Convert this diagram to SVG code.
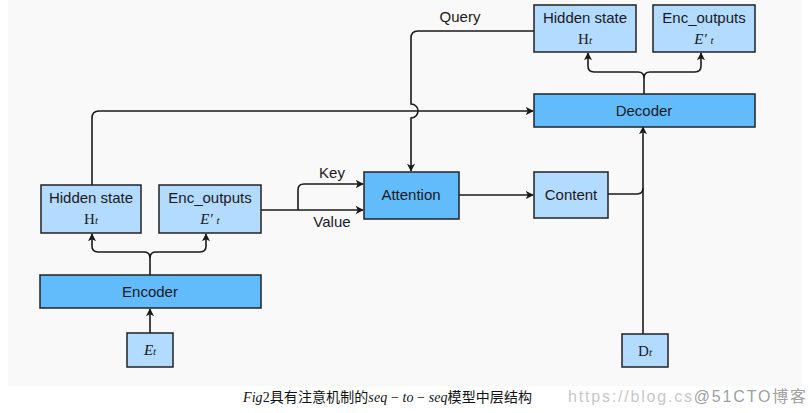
<svg xmlns="http://www.w3.org/2000/svg" width="810" height="413" viewBox="0 0 810 413">
<style>
.lt{fill:#b3dbff;stroke:#222;stroke-width:1.5}
.dk{fill:#62bcfc;stroke:#222;stroke-width:1.5}
.lb{font-family:"Liberation Sans",Arial,sans-serif;font-size:15px;fill:#1a1a1a;text-anchor:middle}
.mt{font-family:"Liberation Serif","Times New Roman",serif;font-size:15px;fill:#1a1a1a;text-anchor:middle}
.cn{fill:none;stroke:#1a1a1a;stroke-width:1.6}
</style>
<defs>
<marker id="ah" viewBox="0 0 10 10" refX="9" refY="5" markerWidth="8" markerHeight="8" orient="auto" markerUnits="userSpaceOnUse">
<path d="M0,0 L10,5 L0,10 L2.5,5 Z" fill="#1a1a1a"/>
</marker>
</defs>
<rect x="8" y="0" width="794" height="386" fill="#f9f9f9"/>
<rect x="0" y="386" width="810" height="27" fill="#ffffff"/>

<g id="connectors">
<path class="cn" d="M150,275 V258 Q150,252 144,252 H98 Q92,252 92,246 V234" marker-end="url(#ah)"/>
<path class="cn" d="M150,258 Q150,252 156,252 H200 Q206,252 206,246 V234" marker-end="url(#ah)"/>
<path class="cn" d="M644,94 V78 Q644,72 638,72 H594 Q588,72 588,66 V53" marker-end="url(#ah)"/>
<path class="cn" d="M644,78 Q644,72 650,72 H695 Q701,72 701,66 V53" marker-end="url(#ah)"/>
<path class="cn" d="M92,185 V118 Q92,111 99,111 H533" marker-end="url(#ah)"/>
<path class="cn" d="M534,31 H418 Q411,31 411,38 V104 A7,7 0 0 1 411,118 V171" marker-end="url(#ah)"/>
<path class="cn" d="M261,210 H363" marker-end="url(#ah)"/>
<path class="cn" d="M298,210 V190 Q298,184 304,184 H363" marker-end="url(#ah)"/>
<path class="cn" d="M459,195 H533" marker-end="url(#ah)"/>
<path class="cn" d="M608,194 H637 Q643,194 643,188"/>
<path class="cn" d="M643,334 V127" marker-end="url(#ah)"/>
<path class="cn" d="M150,333 V309" marker-end="url(#ah)"/>
<text class="lb" x="332" y="178">Key</text>
<text class="lb" x="332" y="227">Value</text>
<text class="lb" x="460" y="22">Query</text>
</g>

<g id="enc-hidden">
<rect class="lt" x="41" y="185" width="100" height="48"/>
<text class="lb" x="91" y="203">Hidden state</text>
<text class="mt" x="91" y="224">H<tspan font-style="italic" font-size="11">t</tspan></text>
</g>
<g id="enc-outputs">
<rect class="lt" x="159" y="185" width="102" height="48"/>
<text class="lb" x="210" y="203">Enc_outputs</text>
<text class="mt" x="210" y="224" font-style="italic">E′ <tspan font-size="11">t</tspan></text>
</g>
<g id="encoder">
<rect class="dk" x="40" y="275" width="221" height="33"/>
<text class="lb" x="150" y="297">Encoder</text>
</g>
<g id="et">
<rect class="lt" x="127" y="333" width="46" height="34"/>
<text class="mt" x="150" y="355" font-style="italic">E<tspan font-size="11">t</tspan></text>
</g>
<g id="attention">
<rect class="dk" x="364" y="172" width="95" height="47"/>
<text class="lb" x="411" y="200">Attention</text>
</g>
<g id="content">
<rect class="lt" x="534" y="172" width="74" height="46"/>
<text class="lb" x="571" y="200">Content</text>
</g>
<g id="decoder">
<rect class="dk" x="534" y="94" width="221" height="33"/>
<text class="lb" x="644" y="116">Decoder</text>
</g>
<g id="dec-hidden">
<rect class="lt" x="534" y="5" width="102" height="47"/>
<text class="lb" x="585" y="23">Hidden state</text>
<text class="mt" x="585" y="44">H<tspan font-style="italic" font-size="11">t</tspan></text>
</g>
<g id="dec-outputs">
<rect class="lt" x="653" y="5" width="102" height="47"/>
<text class="lb" x="704" y="23">Enc_outputs</text>
<text class="mt" x="704" y="44" font-style="italic">E′ <tspan font-size="11">t</tspan></text>
</g>
<g id="dt">
<rect class="lt" x="622" y="334" width="46" height="33"/>
<text class="mt" x="645" y="356">D<tspan font-style="italic" font-size="11">t</tspan></text>
</g>

<text x="243" y="402" textLength="289" lengthAdjust="spacing" font-family="'Liberation Serif','Noto Sans CJK SC',serif" font-size="14" fill="#111"><tspan font-style="italic">Fig</tspan>2<tspan font-family="'Noto Sans CJK SC',sans-serif">具有注意机制的</tspan><tspan font-style="italic">seq</tspan> − <tspan font-style="italic">to</tspan> − <tspan font-style="italic">seq</tspan><tspan font-family="'Noto Sans CJK SC',sans-serif">模型中层结构</tspan></text>
<text x="568" y="402" textLength="238" lengthAdjust="spacing" font-family="'Liberation Sans','Noto Sans CJK SC',sans-serif" font-size="16" fill="#c8c8c8">https://blog.cs<tspan fill="#a0a0a0">@51CTO博客</tspan></text>
</svg>
